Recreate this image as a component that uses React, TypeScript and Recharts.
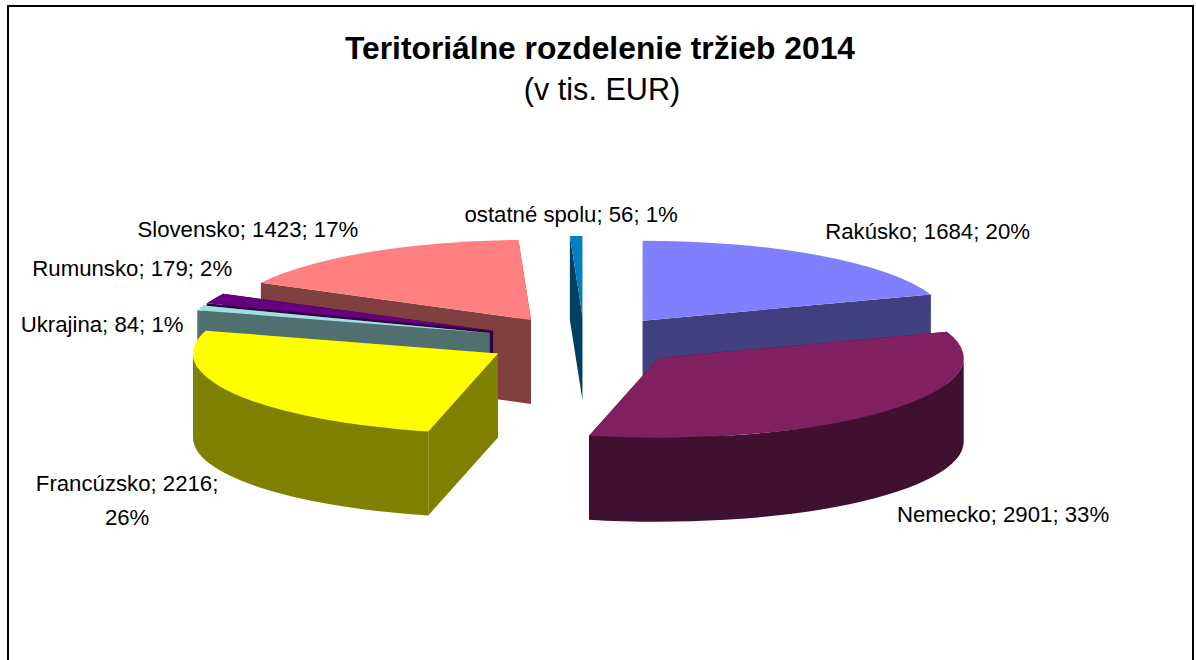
import { PieChart, Pie } from 'recharts';

const names = ['Rakúsko', 'Nemecko', 'Francúzsko', 'Ukrajina', 'Rumunsko', 'Slovensko', 'ostatné spolu'];
const values = [1684, 2901, 2216, 84, 179, 1423, 56];
const percents = [20, 33, 26, 1, 2, 17, 1];

const topColors = ['#8080ff', '#802060', '#ffff00', '#a0e0e0', '#660080', '#ff8080', '#0080c0'];
const sideColors = ['#404080', '#401030', '#808000', '#507070', '#330040', '#804040', '#004060'];

// back to front, the slices have to overlap like in the 3D original
const drawOrder = ['ostatné spolu', 'Slovensko', 'Rumunsko', 'Ukrajina', 'Rakúsko', 'Francúzsko', 'Nemecko'];

const tableData = names.map((name, i) => ({ name, value: values[i], percent: percents[i] }));

const TILT = 0.2623;
const DEPTH = 84;
const EXPLODE_X = 100;
const EXPLODE_Y = 25;

// label position relative to the rim of its slice
const labelNudge: Record<string, [number, number]> = {
  'Rakúsko': [108, -16],
  'Nemecko': [118, 111],
  'Francúzsko': [-107, 97],
  'Ukrajina': [-98, 24],
  'Rumunsko': [-82, -22],
  'Slovensko': [-120, -15],
  'ostatné spolu': [-5, -14],
};

const rad = (deg: number) => (deg * Math.PI) / 180;

function Slice3D(props: any) {
  const { cx, cy, outerRadius, startAngle, endAngle, midAngle, name } = props;
  const i = names.indexOf(name);
  const a = outerRadius;
  const b = outerRadius * TILT;
  const start = 90 - startAngle;
  const end = 90 - endAngle;
  const mid = 90 - midAngle;
  const ox = cx + EXPLODE_X * Math.sin(rad(mid));
  const oy = cy - EXPLODE_Y * Math.cos(rad(mid));
  const rim = (t: number, dz = 0) =>
    `${(ox + a * Math.sin(rad(t))).toFixed(2)} ${(oy - b * Math.cos(rad(t)) + dz).toFixed(2)}`;
  const large = end - start > 180 ? 1 : 0;

  const face = (t: number) =>
    `M${ox} ${oy} L${rim(t)} L${rim(t, DEPTH)} L${ox} ${oy + DEPTH} Z`;

  const w1 = Math.max(start, 90);
  const w2 = Math.min(end, 270);
  const wall =
    w1 < w2
      ? `M${rim(w1)} A${a} ${b} 0 0 1 ${rim(w2)} L${rim(w2, DEPTH)} A${a} ${b} 0 0 0 ${rim(w1, DEPTH)} Z`
      : null;

  return (
    <g>
      <path d={face(start)} fill={sideColors[i]} />
      <path d={face(end)} fill={sideColors[i]} />
      {wall && <path d={wall} fill={sideColors[i]} />}
      <path d={`M${ox} ${oy} L${rim(start)} A${a} ${b} 0 ${large} 1 ${rim(end)} Z`} fill={topColors[i]} />
    </g>
  );
}

function SliceLabel(props: any) {
  const { cx, cy, outerRadius, midAngle, name, value, payload } = props;
  const mid = 90 - midAngle;
  const [nx, ny] = labelNudge[name];
  const x = cx + (EXPLODE_X + outerRadius) * Math.sin(rad(mid)) + nx;
  const y = cy - (EXPLODE_Y + outerRadius * TILT) * Math.cos(rad(mid)) + ny;
  const pct = payload?.percent ?? percents[names.indexOf(name)];
  const style = { fontFamily: 'Liberation Sans', fontSize: 22.2, fill: '#000' };
  if (name === 'Francúzsko') {
    return (
      <text x={x} y={y} textAnchor="middle" style={style}>
        <tspan x={x}>{`${name}; ${value};`}</tspan>
        <tspan x={x} dy={34}>{`${pct}%`}</tspan>
      </text>
    );
  }
  return (
    <text x={x} y={y} textAnchor="middle" style={style}>
      {`${name}; ${value}; ${pct}%`}
    </text>
  );
}

export default function App() {
  return (
    <div style={{ position: 'absolute', left: 0, top: 0, width: 1196, height: 660, overflow: 'hidden', background: '#fff' }}>
      <div
        style={{
          position: 'absolute',
          left: 7,
          top: 5,
          width: 1183,
          height: 660,
          borderTop: '2px solid #000',
          borderLeft: '2px solid #000',
          borderRight: '2px solid #000',
        }}
      />
      <PieChart width={1196} height={660} margin={{ top: 0, right: 0, bottom: 0, left: 0 }} style={{ position: 'absolute', left: 0, top: 0 }}>
        <text x={600} y={59} textAnchor="middle" style={{ fontFamily: 'Liberation Sans', fontSize: 31.8, fontWeight: 700, fill: '#000' }}>
          Teritoriálne rozdelenie tržieb 2014
        </text>
        <text x={602} y={100} textAnchor="middle" style={{ fontFamily: 'Liberation Sans', fontSize: 30.6, fill: '#000' }}>
          (v tis. EUR)
        </text>
        {drawOrder.map(target => (
          <Pie
            key={target}
            data={tableData}
            dataKey="value"
            nameKey="name"
            cx={584.5}
            cy={341}
            innerRadius={0}
            outerRadius={305}
            startAngle={90}
            endAngle={-270}
            stroke="none"
            isAnimationActive={false}
            labelLine={false}
            shape={(p: any) => (p.name === target ? <Slice3D {...p} /> : <g />)}
            label={(p: any) => (p.name === target ? <SliceLabel {...p} /> : <g />)}
          />
        ))}
      </PieChart>
    </div>
  );
}
